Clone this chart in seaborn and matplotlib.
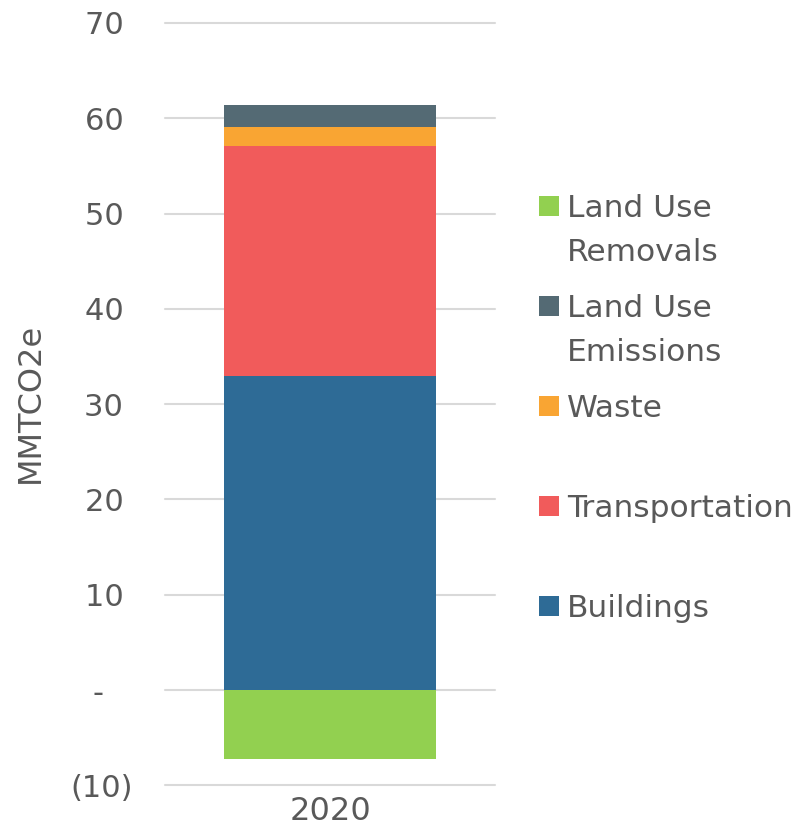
import matplotlib
matplotlib.use("Agg")
import matplotlib.pyplot as plt
import matplotlib.patches as mpatches
from matplotlib.ticker import FuncFormatter
import seaborn as sns
import pandas as pd
import numpy as np

years = ["2020"]
sectors = ["Buildings", "Transportation", "Waste", "Land Use Emissions", "Land Use Removals"]
values = [33.0, 24.1, 2.0, 2.3, -7.2]
colors = ["#2E6B96", "#F15B5B", "#F9A533", "#546A74", "#92D050"]
legend_labels = ["Land Use\nRemovals", "Land Use\nEmissions", "Waste", "Transportation", "Buildings"]
legend_colors = colors[::-1]

sns.set_theme(style="white")
plt.rcParams['font.family'] = ['DejaVu Sans']
txt = "#595959"

W, H = 800, 826
fig = plt.figure(figsize=(W / 100, H / 100), dpi=100)
ax = fig.add_axes([165 / W, 1 - 785.3 / H, 330 / W, (785.3 - 23) / H])

# positive stack: cumulative sums drawn from top down so each overlaps
pos = [(s, v, c) for s, v, c in zip(sectors, values, colors) if v > 0]
cum = np.cumsum([v for _, v, _ in pos])
for (s, v, c), top in reversed(list(zip(pos, cum))):
    df = pd.DataFrame({"year": years, "val": [top]})
    sns.barplot(data=df, x="year", y="val", color=c, saturation=1, width=0.645,
                linewidth=0, ax=ax, zorder=3)
for s, v, c in zip(sectors, values, colors):
    if v < 0:
        df = pd.DataFrame({"year": years, "val": [v]})
        sns.barplot(data=df, x="year", y="val", color=c, saturation=1, width=0.645,
                    linewidth=0, ax=ax, zorder=3)

ax.set_xlim(-0.5, 0.5)
ax.set_ylim(-10, 70)
ax.set_yticks(np.arange(-10, 71, 10))

def fmt(v, p):
    if abs(v) < 1e-9:
        return "-\u2007\u2008"
    if v < 0:
        return f"({abs(v):.0f})"
    return f"{v:.0f}\u2008"
ax.yaxis.set_major_formatter(FuncFormatter(fmt))
ax.grid(axis="y", color="#D9D9D9", linewidth=1.5, zorder=0)
ax.grid(axis="x", visible=False)
for gl in ax.get_ygridlines():
    gl.set_clip_on(False)
for sp in ax.spines.values():
    sp.set_visible(False)
ax.tick_params(axis="both", length=0, labelsize=22, colors=txt)
ax.tick_params(axis="x", pad=8, labelsize=23)
ax.tick_params(axis="y", pad=23)
ax.set_xlabel("")
ax.set_ylabel("")
fig.text(30 / W, 1 - 403 / H, "MMTCO2e", rotation=90, fontsize=23, color=txt,
         ha="center", va="center")

# legend: one 100px slot per entry, square aligned with first text line
for i, (lab, c) in enumerate(zip(legend_labels, legend_colors)):
    top = 196 + i * 100
    fig.add_artist(mpatches.Rectangle((539 / W, 1 - (top + 20) / H), 20 / W, 20 / H,
                                      transform=fig.transFigure, color=c, linewidth=0))
    for j, line in enumerate(lab.split("\n")):
        fig.text(567 / W, 1 - (217 + i * 100 + j * 44) / H, line, fontsize=22.5,
                 color=txt, ha="left", va="baseline")

fig.savefig("out.png", dpi=100)
